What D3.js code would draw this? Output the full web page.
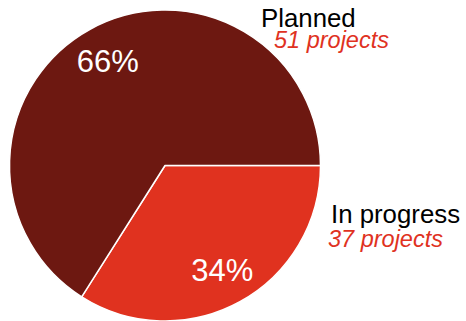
<!DOCTYPE html>
<html>
<head>
<meta charset="utf-8">
<script src="https://cdn.jsdelivr.net/npm/d3@7"></script>
<style>
  html, body { margin: 0; padding: 0; background: #fff; }
  svg { display: block; font-family: "Liberation Sans", Arial, sans-serif; }
</style>
</head>
<body>
<svg id="chart" width="466" height="321"></svg>
<script>
// Project status breakdown
const categories = ["In progress", "Planned"];
const percents = [34, 66];
const projectCounts = [37, 51];
const sliceColors = ["#e0321f", "#6d1811"];

const svg = d3.select("#chart");
const cx = 165, cy = 165.5, radius = 155.5;

const pie = d3.pie()
  .sort(null)
  .value(d => d.pct)
  .startAngle(Math.PI / 2)
  .endAngle(Math.PI / 2 + 2 * Math.PI);

const data = categories.map((c, i) => ({ name: c, pct: percents[i], count: projectCounts[i], color: sliceColors[i] }));
const arcs = pie(data);

const arc = d3.arc().innerRadius(0).outerRadius(radius);
const labelArc = d3.arc().innerRadius(119).outerRadius(119);

const g = svg.append("g").attr("transform", `translate(${cx},${cy})`);

g.selectAll("path.slice")
  .data(arcs)
  .join("path")
  .attr("class", "slice")
  .attr("d", arc)
  .attr("fill", d => d.data.color)
  .attr("stroke", "#fff")
  .attr("stroke-width", 1.5)
  .attr("stroke-linejoin", "round");

g.selectAll("text.pct")
  .data(arcs)
  .join("text")
  .attr("class", "pct")
  .attr("transform", d => `translate(${labelArc.centroid(d)})`)
  .attr("text-anchor", "middle")
  .attr("dy", "0.36em")
  .attr("fill", "#fff")
  .attr("font-size", 31)
  .text(d => d.data.pct + "%");

// Outside labels: category name and project count
const outside = [
  { idx: 1, x: 261, y: 27, sx: 274, sy: 48 },
  { idx: 0, x: 331, y: 223, sx: 328, sy: 247 }
];

outside.forEach(o => {
  const d = data[o.idx];
  svg.append("text")
    .attr("x", o.x).attr("y", o.y)
    .attr("font-size", 25.8)
    .attr("fill", "#000")
    .text(d.name);
  svg.append("text")
    .attr("x", o.sx).attr("y", o.sy)
    .attr("font-size", 23.5)
    .attr("font-style", "italic")
    .attr("fill", "#e0321f")
    .text(d.count + " projects");
});
</script>
</body>
</html>
